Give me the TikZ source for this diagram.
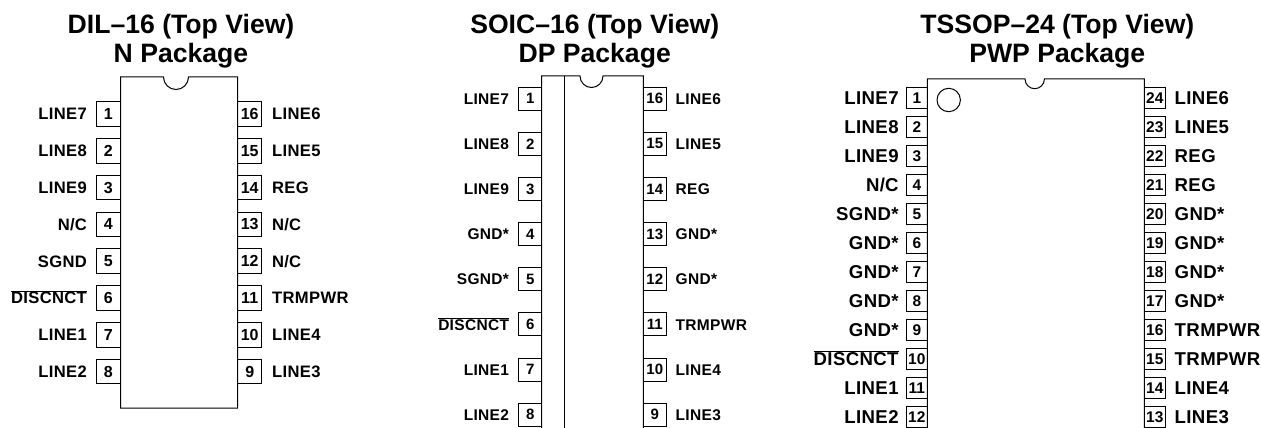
\documentclass[tikz,border=0pt]{standalone}
\usepackage{fontspec}
\setmainfont{Liberation Sans}
\usepackage{tikz}
\usetikzlibrary{
    calc,
    positioning
}
\newcommand{\discnct}{$\overline{\mbox{DISCNCT}}$}
\tikzset{
    title/.style={font=\fontsize{26.6}{29}\selectfont\bfseries,align=center,inner sep=0pt},
    pin/.style={draw,line width=1pt,inner sep=0pt,minimum width=#1,minimum height=#1},
    lab/.style={font=\fontsize{#1}{#1}\selectfont\bfseries\addfontfeature{LetterSpace=2},inner sep=0pt,text height=0.72*#1 pt,text depth=0pt},
    num/.style={font=\fontsize{#1}{#1}\selectfont\bfseries},
    body/.style={draw,line width=1pt}
}

\begin{document}
\begin{tikzpicture}[x=1pt,y=-1pt]
        \useasboundingbox (0,0) rectangle (1261,428);

        % DIL-16
        \begin{scope}[shift={(120.5,0)}]
            \node[title] (dilt) at (60.5,41) {DIL--16 (Top View)\\N Package};
            \draw[body] (0,77) -- (43,77) arc[start angle=180,end angle=360,radius=12.5pt] -- (117,77) -- (117,408) -- (0,408) -- cycle;
            \foreach \n/\t [count=\i] in {1/LINE7,2/LINE8,3/LINE9,4/N\slash C,5/SGND,6/\discnct,7/LINE1,8/LINE2}{
                \node[pin=24.5pt,num=16] (dl\n) at (-12.2,{114+(\i-1)*36.8}) {\n};
                \node[lab=16.6,left=8.5pt of dl\n] (dlt\n) {\t};
            }
            \foreach \n/\t [count=\i] in {16/LINE6,15/LINE5,14/REG,13/N\slash C,12/N\slash C,11/TRMPWR,10/LINE4,9/LINE3}{
                \node[pin=24.5pt,num=16] (dr\n) at (129.2,{114+(\i-1)*36.8}) {\n};
                \node[lab=16.6,right=9.5pt of dr\n] (drt\n) {\t};
            }
        \end{scope}

        % SOIC-16
        \begin{scope}[shift={(541.7,0)}]
            \node[title] (soict) at (53,41) {SOIC--16 (Top View)\\DP Package};
            \draw[body] (0,440) -- (0,76) -- (38.3,76) arc[start angle=180,end angle=360,radius=11.5pt] -- (101.6,76) -- (101.6,440);
            \draw[body] (22.3,76) -- (22.3,440);
            \foreach \n/\t [count=\i] in {1/LINE7,2/LINE8,3/LINE9,4/GND*,5/SGND*,6/\discnct,7/LINE1,8/LINE2}{
                \node[pin=23pt,num=15] (sl\n) at (-11.5,{98.7+(\i-1)*45.15}) {\n};
                \node[lab=15.5,left=9pt of sl\n] (slt\n) {\t};
            }
            \foreach \n/\t [count=\i] in {16/LINE6,15/LINE5,14/REG,13/GND*,12/GND*,11/TRMPWR,10/LINE4,9/LINE3}{
                \node[pin=23pt,num=15] (sr\n) at (113.1,{98.7+(\i-1)*45.15}) {\n};
                \node[lab=15.5,right=8.7pt of sr\n] (srt\n) {\t};
            }
        \end{scope}

        % TSSOP-24
        \begin{scope}[shift={(927.3,0)}]
            \node[title] (tsst) at (130,41) {TSSOP--24 (Top View)\\PWP Package};
            \draw[body] (0,440) -- (0,79) -- (97.7,79) arc[start angle=180,end angle=360,radius=9.7pt] -- (217,79) -- (217,440);
            \node[draw,circle,line width=1pt,minimum size=23.4pt,inner sep=0pt] (dot) at (21.4,100) {};
            \foreach \n/\t [count=\i] in {1/LINE7,2/LINE8,3/LINE9,4/N\slash C,5/SGND*,6/GND*,7/GND*,8/GND*,9/GND*,10/\discnct,11/LINE1,12/LINE2}{
                \node[pin=21pt,num=15.5] (tl\n) at (-10.5,{98.2+(\i-1)*29}) {\n};
                \node[lab=18.6,left=7pt of tl\n] (tlt\n) {\t};
            }
            \foreach \n/\t [count=\i] in {24/LINE6,23/LINE5,22/REG,21/REG,20/GND*,19/GND*,18/GND*,17/GND*,16/TRMPWR,15/TRMPWR,14/LINE4,13/LINE3}{
                \node[pin=21pt,num=15.5] (tr\n) at (227.5,{98.2+(\i-1)*29}) {\n};
                \node[lab=18.6,right=8.7pt of tr\n] (trt\n) {\t};
            }
        \end{scope}
    \end{tikzpicture}
\end{document}
